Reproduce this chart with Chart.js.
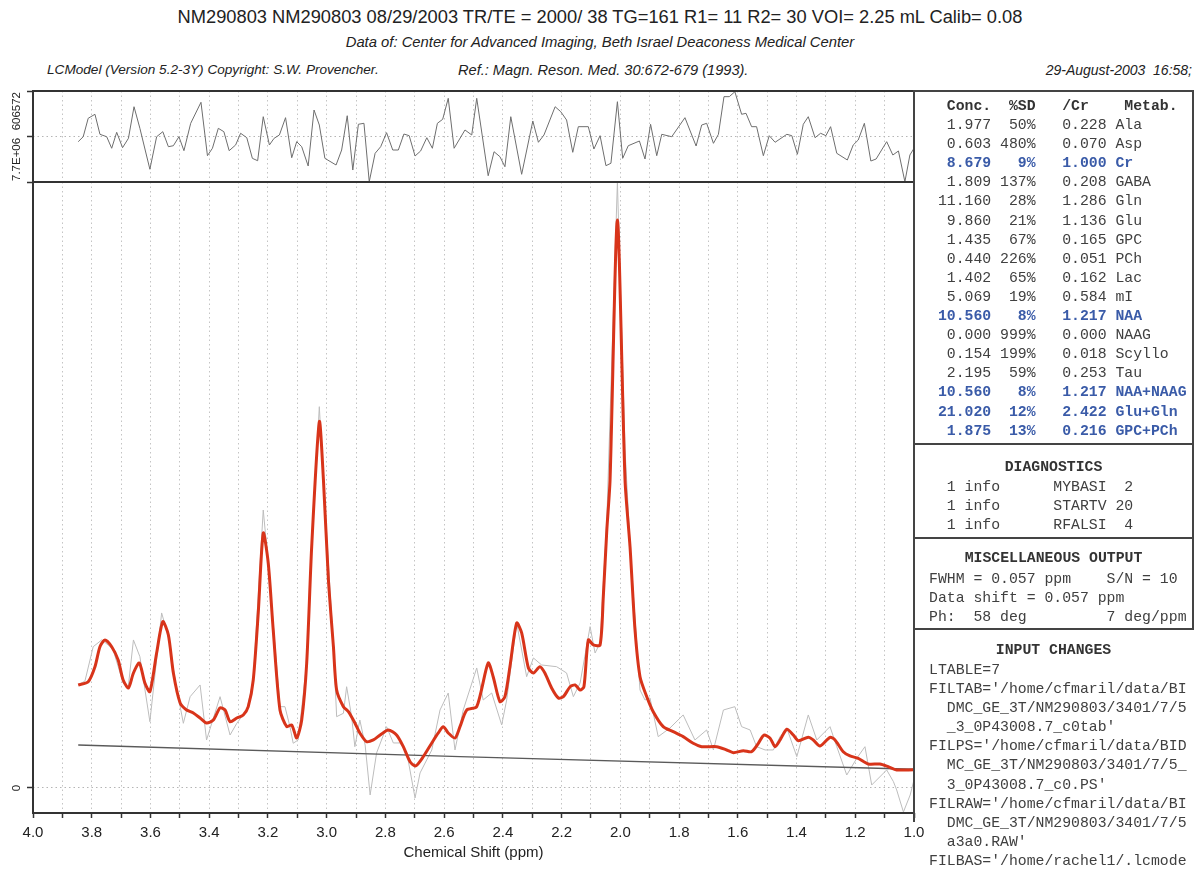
<!DOCTYPE html>
<html>
<head>
<meta charset="utf-8">
<title>LCModel fit NM290803</title>
<script src="https://cdn.jsdelivr.net/npm/chart.js@4.4.1/dist/chart.umd.min.js"></script>
<style>
  body { margin: 0; background: #fff; }
  #page { position: relative; width: 1200px; height: 869px; overflow: hidden;
          font-family: 'Liberation Sans Narrow', 'Liberation Sans', Arial, sans-serif; color: #222; }
  .hdr { position: absolute; white-space: pre; line-height: 1; }
  #title { top: 8px; left: 0; width: 1200px; text-align: center; font-size: 18.3px; }
  #source { top: 35px; left: 0; width: 1200px; text-align: center; font-size: 14.8px; font-style: italic; }
  #credit { top: 63px; left: 47px; font-size: 13.6px; font-style: italic; }
  #ref { top: 63px; left: 458px; font-size: 14.6px; font-style: italic; }
  #stamp { top: 63px; right: 8px; font-size: 14px; font-style: italic; }
  canvas { position: absolute; left: 0; }
  #resCanvas { top: 85px; }
  #fitCanvas { top: 85px; }
  .box { position: absolute; left: 913px; width: 281px; border: 2px solid #444; box-sizing: border-box; }
  #box1 { top: 90px; height: 355px; }
  #box2 { top: 443px; height: 96px; }
  #box3 { top: 537px; height: 93px; }
  #box4 { top: 628px; height: 194px; border-right: none; border-bottom: none; }
  .mono { position: absolute; left: 929px; margin: 0; white-space: pre;
          font-family: 'Liberation Mono', 'DejaVu Sans Mono', monospace; font-size: 14.8px; color: #404040; }
  .head { position: absolute; left: 913px; width: 281px; text-align: center; font-weight: bold;
          font-family: 'Liberation Mono', 'DejaVu Sans Mono', monospace; font-size: 14.8px; color: #333; line-height: 19px; }
  .mono div { height: 19.1px; line-height: 19.1px; }
  .blue { color: #3a5ba8; font-weight: bold; }
  .bold { font-weight: bold; color: #333; }
</style>
</head>
<body>
<div id="page">
  <div id="title" class="hdr">NM290803 NM290803 08/29/2003 TR/TE = 2000/ 38 TG=161 R1= 11 R2= 30 VOI= 2.25 mL Calib= 0.08</div>
  <div id="source" class="hdr">Data of: Center for Advanced Imaging, Beth Israel Deaconess Medical Center</div>
  <div id="credit" class="hdr">LCModel (Version 5.2-3Y) Copyright: S.W. Provencher.</div>
  <div id="ref" class="hdr">Ref.: Magn. Reson. Med. 30:672-679 (1993).</div>
  <div id="stamp" class="hdr">29-August-2003  16:58;</div>

  <canvas id="fitCanvas" width="940" height="784"></canvas>
  <canvas id="resCanvas" width="940" height="100"></canvas>

  <div class="box" id="box1"></div>
  <div class="box" id="box2"></div>
  <div class="box" id="box3"></div>
  <div class="box" id="box4"></div>

  <div class="mono" id="concTable" style="top:97px"></div>
  <div class="head" style="top:458px">DIAGNOSTICS</div>
  <div class="mono" id="diagTable" style="top:478px"></div>
  <div class="head" style="top:549px">MISCELLANEOUS OUTPUT</div>
  <div class="mono" id="miscTable" style="top:570px"></div>
  <div class="head" style="top:641px">INPUT CHANGES</div>
  <div class="mono" id="inputTable" style="top:661px"></div>
</div>

<script>
// chemical shift axis, ppm (plotted right to left)
const ppmTicks = [4.0, 3.9, 3.8, 3.7, 3.6, 3.5, 3.4, 3.3, 3.2, 3.1, 3.0, 2.9, 2.8, 2.7, 2.6, 2.5,
                  2.4, 2.3, 2.2, 2.1, 2.0, 1.9, 1.8, 1.7, 1.6, 1.5, 1.4, 1.3, 1.2, 1.1, 1.0];

// intensities are in units of 1e6
const spectrumMax = 7.7;
const spectrumMin = -0.318;
const residualMax = 0.606572;

// LCModel fit (red)
const fitPpm = [
  3.846, 3.812, 3.789, 3.772, 3.755, 3.732, 3.710, 3.693, 3.675, 3.658,
  3.638, 3.619, 3.602, 3.579, 3.558, 3.539, 3.522, 3.499, 3.477, 3.454,
  3.431, 3.409, 3.386, 3.363, 3.346, 3.329, 3.306, 3.284, 3.267, 3.250,
  3.233, 3.216, 3.199, 3.182, 3.159, 3.136, 3.119, 3.102, 3.085, 3.068,
  3.051, 3.025, 3.011, 2.994, 2.977, 2.966, 2.943, 2.926, 2.904, 2.887,
  2.864, 2.841, 2.818, 2.790, 2.762, 2.739, 2.716, 2.697, 2.671, 2.642,
  2.620, 2.603, 2.586, 2.563, 2.546, 2.523, 2.489, 2.450, 2.433, 2.410,
  2.393, 2.376, 2.353, 2.336, 2.313, 2.296, 2.274, 2.257, 2.234, 2.211,
  2.194, 2.171, 2.154, 2.137, 2.124, 2.109, 2.092, 2.069, 2.058, 2.046,
  2.035, 2.010, 1.984, 1.967, 1.950, 1.933, 1.910, 1.888, 1.854, 1.820,
  1.786, 1.752, 1.723, 1.672, 1.638, 1.615, 1.581, 1.553, 1.530, 1.511,
  1.490, 1.473, 1.456, 1.433, 1.411, 1.394, 1.360, 1.343, 1.320, 1.286,
  1.269, 1.241, 1.218, 1.190, 1.156, 1.116, 1.088, 1.059, 1.002
];
const fitVal = [
  1.309, 1.351, 1.541, 1.795, 1.881, 1.795, 1.626, 1.372, 1.271, 1.461,
  1.588, 1.334, 1.224, 1.715, 2.113, 1.944, 1.461, 1.080, 0.991, 0.953,
  0.889, 0.826, 0.864, 1.017, 0.991, 0.842, 0.889, 0.928, 1.033, 1.372,
  2.224, 3.240, 2.859, 2.008, 0.991, 0.779, 0.801, 0.635, 0.864, 1.588,
  3.066, 4.654, 3.914, 2.643, 1.795, 1.245, 1.033, 0.969, 0.826, 0.699,
  0.588, 0.610, 0.673, 0.737, 0.673, 0.525, 0.334, 0.280, 0.398, 0.572,
  0.699, 0.779, 0.699, 0.635, 0.779, 0.991, 1.033, 1.588, 1.414, 1.097,
  1.160, 1.541, 2.097, 1.970, 1.525, 1.461, 1.541, 1.461, 1.271, 1.144,
  1.160, 1.287, 1.309, 1.245, 1.287, 1.881, 1.817, 1.817, 2.431, 3.278,
  3.914, 7.217, 3.914, 3.066, 2.008, 1.414, 1.160, 0.969, 0.779, 0.715,
  0.652, 0.568, 0.525, 0.525, 0.483, 0.449, 0.474, 0.461, 0.568, 0.673,
  0.632, 0.525, 0.610, 0.746, 0.673, 0.601, 0.644, 0.610, 0.534, 0.644,
  0.610, 0.461, 0.407, 0.377, 0.305, 0.305, 0.271, 0.229, 0.232
];

// measured spectrum (grey)
const dataPpm = [
  3.846, 3.823, 3.795, 3.766, 3.744, 3.727, 3.693, 3.676, 3.658, 3.636,
  3.602, 3.562, 3.539, 3.516, 3.488, 3.465, 3.431, 3.409, 3.363, 3.329,
  3.306, 3.272, 3.250, 3.216, 3.199, 3.159, 3.142, 3.125, 3.114, 3.097,
  3.068, 3.051, 3.025, 3.011, 2.977, 2.966, 2.943, 2.932, 2.915, 2.904,
  2.887, 2.869, 2.852, 2.830, 2.796, 2.773, 2.750, 2.727, 2.699, 2.682,
  2.642, 2.614, 2.586, 2.563, 2.535, 2.489, 2.467, 2.438, 2.404, 2.387,
  2.353, 2.319, 2.296, 2.268, 2.217, 2.183, 2.160, 2.137, 2.103, 2.086,
  2.069, 2.046, 2.010, 1.984, 1.964, 1.933, 1.916, 1.899, 1.871, 1.831,
  1.786, 1.746, 1.706, 1.683, 1.649, 1.610, 1.587, 1.558, 1.536, 1.507,
  1.479, 1.456, 1.433, 1.399, 1.360, 1.331, 1.286, 1.263, 1.229, 1.195,
  1.167, 1.144, 1.093, 1.070, 1.059, 1.036, 1.013, 1.000
];
const dataVal = [
  1.309, 1.360, 1.795, 1.881, 1.817, 1.753, 1.334, 1.271, 1.881, 1.668,
  0.842, 2.224, 1.922, 1.372, 0.822, 1.160, 1.309, 0.610, 1.160, 0.673,
  0.822, 0.991, 1.372, 3.532, 2.859, 1.033, 1.033, 0.779, 0.568, 0.610,
  1.588, 3.066, 4.845, 3.914, 1.795, 0.906, 0.949, 1.287, 0.906, 0.525,
  0.864, 0.546, -0.089, 0.445, 0.779, 0.572, 0.572, 0.445, -0.127, 0.191,
  0.483, 0.991, 1.207, 0.483, 0.991, 1.525, 1.118, 1.207, 0.801, 1.118,
  2.097, 1.414, 1.652, 1.563, 1.541, 1.461, 1.160, 1.334, 2.050, 1.715,
  1.842, 3.405, 7.700, 4.295, 2.900, 1.245, 1.118, 1.144, 0.652, 0.762,
  0.928, 0.610, 0.737, 0.483, 0.991, 1.033, 0.779, 0.737, 0.525, 0.483,
  0.483, 0.652, 0.759, 0.398, 0.928, 0.610, 0.779, 0.525, 0.165, 0.377,
  0.525, 0.038, 0.229, 0.080, -0.025, -0.305, -0.089, 0.102
];

// fitted baseline
const basePpm = [3.846, 2.546, 1.002];
const baseVal = [0.546, 0.398, 0.238];

// residual = data - fit (top panel)
const residPpm = [
  3.846, 3.829, 3.812, 3.789, 3.772, 3.749, 3.732, 3.715, 3.695, 3.675,
  3.656, 3.636, 3.602, 3.579, 3.558, 3.539, 3.522, 3.503, 3.486, 3.463,
  3.428, 3.406, 3.389, 3.369, 3.350, 3.332, 3.310, 3.293, 3.272, 3.253,
  3.235, 3.216, 3.195, 3.179, 3.161, 3.140, 3.119, 3.102, 3.085, 3.063,
  3.043, 3.025, 3.006, 2.968, 2.949, 2.930, 2.911, 2.892, 2.873, 2.855,
  2.835, 2.816, 2.796, 2.775, 2.756, 2.737, 2.719, 2.699, 2.680, 2.659,
  2.640, 2.623, 2.605, 2.586, 2.566, 2.529, 2.506, 2.489, 2.450, 2.430,
  2.410, 2.393, 2.373, 2.336, 2.298, 2.279, 2.260, 2.222, 2.203, 2.183,
  2.162, 2.143, 2.109, 2.090, 2.069, 2.049, 2.032, 2.010, 1.992, 1.973,
  1.935, 1.916, 1.897, 1.876, 1.859, 1.825, 1.780, 1.742, 1.723, 1.706,
  1.683, 1.666, 1.647, 1.629, 1.610, 1.587, 1.572, 1.553, 1.536, 1.513,
  1.493, 1.473, 1.433, 1.416, 1.397, 1.377, 1.360, 1.337, 1.318, 1.300,
  1.284, 1.263, 1.227, 1.207, 1.190, 1.169, 1.147, 1.129, 1.093, 1.072,
  1.053, 1.031, 1.014, 1.000
];
const residVal = [
  -0.069, -0.003, 0.243, 0.296, 0.029, -0.003, -0.157, 0.056, -0.149, -0.024,
  0.397, 0.109, -0.437, -0.003, 0.064, -0.136, -0.123, -0.003, -0.189, 0.176,
  0.456, -0.256, -0.157, 0.109, 0.064, -0.189, -0.113, 0.043, -0.016, -0.291,
  -0.323, 0.264, -0.113, -0.024, 0.020, 0.251, -0.283, -0.069, -0.136, -0.393,
  0.353, 0.153, -0.291, -0.380, -0.180, 0.277, -0.447, 0.163, 0.176, -0.603,
  -0.224, -0.136, 0.051, -0.180, -0.180, 0.033, 0.011, -0.260, -0.193, -0.016,
  -0.157, 0.176, 0.229, 0.509, -0.157, 0.087, 0.020, 0.509, -0.523, -0.203,
  -0.269, -0.403, 0.264, -0.504, 0.207, -0.077, 0.020, 0.397, 0.331, 0.220,
  -0.211, 0.131, 0.131, -0.167, 0.011, -0.389, -0.357, 0.464, -0.291, -0.123,
  -0.060, -0.300, 0.163, -0.256, 0.029, -0.003, 0.251, -0.127, 0.153, 0.176,
  -0.091, 0.029, 0.531, 0.531, 0.597, 0.296, 0.309, 0.131, 0.131, -0.256,
  0.011, -0.077, 0.029, 0.011, -0.237, 0.163, 0.264, -0.016, 0.043, 0.011,
  0.131, -0.224, -0.313, -0.113, -0.047, 0.176, -0.327, -0.300, -0.069, -0.247,
  -0.193, -0.603, -0.247, -0.157
];

// concentration table
const metabNames = ['Ala', 'Asp', 'Cr', 'GABA', 'Gln', 'Glu', 'GPC', 'PCh', 'Lac', 'mI',
                    'NAA', 'NAAG', 'Scyllo', 'Tau', 'NAA+NAAG', 'Glu+Gln', 'GPC+PCh'];
const metabConc = [1.977, 0.603, 8.679, 1.809, 11.160, 9.860, 1.435, 0.440, 1.402, 5.069,
                   10.560, 0.000, 0.154, 2.195, 10.560, 21.020, 1.875];
const metabSD = [50, 480, 9, 137, 28, 21, 67, 226, 65, 19, 8, 999, 199, 59, 8, 12, 13];
const metabRatio = [0.228, 0.070, 1.000, 0.208, 1.286, 1.136, 0.165, 0.051, 0.162, 0.584,
                    1.217, 0.000, 0.018, 0.253, 1.217, 2.422, 0.216];
const highlighted = ['Cr', 'NAA', 'NAA+NAAG', 'Glu+Gln', 'GPC+PCh'];

const diagCount = [1, 1, 1];
const diagLevel = ['info', 'info', 'info'];
const diagCode = ['MYBASI', 'STARTV', 'RFALSI'];
const diagNum = [2, 20, 4];

const miscLines = [
  'FWHM = 0.057 ppm    S/N = 10',
  'Data shift = 0.057 ppm',
  'Ph:  58 deg         7 deg/ppm'
];
const inputLines = [
  'LTABLE=7',
  "FILTAB='/home/cfmaril/data/BI",
  '  DMC_GE_3T/NM290803/3401/7/5',
  "  _3_0P43008.7_c0tab'",
  "FILPS='/home/cfmaril/data/BID",
  '  MC_GE_3T/NM290803/3401/7/5_',
  "  3_0P43008.7_c0.PS'",
  "FILRAW='/home/cfmaril/data/BI",
  '  DMC_GE_3T/NM290803/3401/7/5',
  "  a3a0.RAW'",
  "FILBAS='/home/rachel1/.lcmode"
];

// ---- text panels ----
function addLine(parent, text, cls) {
  const d = document.createElement('div');
  d.textContent = text;
  if (cls) d.className = cls;
  parent.appendChild(d);
}

const concTable = document.getElementById('concTable');
addLine(concTable, '  Conc.  %SD   /Cr    Metab.', 'bold');
metabNames.forEach((name, i) => {
  const line = ' ' + metabConc[i].toFixed(3).padStart(6) + ' ' + (metabSD[i] + '%').padStart(4) +
               '   ' + metabRatio[i].toFixed(3) + ' ' + name;
  addLine(concTable, line, highlighted.includes(name) ? 'blue' : '');
});

const diagTable = document.getElementById('diagTable');
diagCode.forEach((code, i) => {
  addLine(diagTable, '  ' + diagCount[i] + ' ' + diagLevel[i].padEnd(10) + code + String(diagNum[i]).padStart(3));
});
const miscTable = document.getElementById('miscTable');
miscLines.forEach(l => addLine(miscTable, l));
const inputTable = document.getElementById('inputTable');
inputLines.forEach(l => addLine(inputTable, l));

// ---- charts ----
const narrow = "'Liberation Sans Narrow', 'Liberation Sans', Arial, sans-serif";
const toPoints = (xs, ys) => xs.map((x, i) => ({ x: x, y: ys[i] }));

function sciLabel(v) {
  const [m, e] = (v * 1e6).toExponential(1).split('e');
  const exp = Math.abs(+e).toString().padStart(2, '0');
  return m + 'E' + (+e < 0 ? '-' : '+') + exp;
}

// box around the plotting area
const framePlugin = {
  id: 'frame',
  afterDatasetsDraw(chart) {
    const { ctx, chartArea: a } = chart;
    ctx.save();
    ctx.strokeStyle = '#333';
    ctx.lineWidth = 2;
    ctx.strokeRect(a.left, a.top, a.right - a.left, a.bottom - a.top);
    ctx.restore();
  }
};

// y labels are written sideways, like the PostScript output
function sideLabels(labels) {
  return {
    id: 'sideLabels',
    afterDraw(chart) {
      const { ctx } = chart;
      const y = chart.scales.y;
      ctx.save();
      ctx.font = '11.5px ' + narrow;
      ctx.fillStyle = '#222';
      ctx.textBaseline = 'middle';
      labels.forEach(l => {
        ctx.save();
        ctx.translate(17, y.getPixelForValue(l.value) + (l.shift || 0));
        ctx.rotate(-Math.PI / 2);
        ctx.textAlign = l.align;
        ctx.fillText(l.text, 0, 0);
        ctx.restore();
      });
      ctx.restore();
    }
  };
}

function ppmAxis(withLabels) {
  return {
    type: 'linear',
    min: 1.0,
    max: 4.0,
    reverse: true,
    afterBuildTicks: s => { s.ticks = ppmTicks.map(v => ({ value: v })); },
    afterFit: s => { s.paddingLeft = 0; s.paddingRight = 0; s.height = withLabels ? 56 : 3; },
    grid: { color: '#c4c4c4', lineWidth: 1, drawTicks: withLabels, tickLength: 5,
            tickColor: '#333', tickWidth: 1.5, tickBorderDash: [] },
    border: { display: false, dash: [1.5, 3] },
    ticks: {
      display: withLabels, autoSkip: false, maxRotation: 0, minRotation: 0, padding: 6,
      color: '#222', font: { family: narrow, size: 15 },
      callback: v => (Math.round(v * 10) % 2 === 0 ? v.toFixed(1) : '')
    },
    title: { display: withLabels, text: 'Chemical Shift (ppm)', color: '#222',
             font: { family: narrow, size: 15 }, padding: { top: 0, bottom: 7 } }
  };
}

function intensityAxis(min, max, tickValues) {
  return {
    type: 'linear',
    min: min,
    max: max,
    afterBuildTicks: s => { s.ticks = tickValues.map(v => ({ value: v })); },
    afterFit: s => { s.width = 33; },
    grid: { color: c => (c.tick && c.tick.value === 0 ? '#b5b5b5' : 'rgba(0,0,0,0)'),
            drawTicks: true, tickLength: 6, tickColor: '#333', tickWidth: 1.5, tickBorderDash: [] },
    border: { display: false, dash: [1.5, 3] },
    ticks: { display: false }
  };
}

const common = {
  responsive: false,
  devicePixelRatio: 1,
  animation: false,
  events: [],
  parsing: false,
  normalized: true,
  elements: { point: { radius: 0 } },
  plugins: { legend: { display: false }, tooltip: { enabled: false } }
};

new Chart(document.getElementById('fitCanvas'), {
  type: 'line',
  data: {
    datasets: [
      { data: toPoints(fitPpm, fitVal), borderColor: '#d8341a', borderWidth: 3, tension: 0.25,
        borderJoinStyle: 'round', fill: false },
      { data: toPoints(basePpm, baseVal), borderColor: '#5a5a5a', borderWidth: 1.3, fill: false },
      { data: toPoints(dataPpm, dataVal), borderColor: '#bdbdbd', borderWidth: 1, fill: false }
    ]
  },
  options: Object.assign({}, common, {
    layout: { padding: { left: 0, right: 26, top: 97, bottom: 0 } },
    scales: {
      x: ppmAxis(true),
      y: intensityAxis(spectrumMin, spectrumMax, [0, spectrumMax])
    }
  }),
  plugins: [framePlugin, sideLabels([
    { value: 0, text: '0', align: 'center' },
    { value: spectrumMax, text: sciLabel(spectrumMax), align: 'left', shift: -1 }
  ])]
});

new Chart(document.getElementById('resCanvas'), {
  type: 'line',
  data: {
    datasets: [
      { data: toPoints(residPpm, residVal), borderColor: '#6e6e6e', borderWidth: 1, fill: false }
    ]
  },
  options: Object.assign({}, common, {
    layout: { padding: { left: 0, right: 26, top: 6, bottom: 0 } },
    scales: {
      x: ppmAxis(false),
      y: intensityAxis(-residualMax, residualMax, [0, residualMax])
    }
  }),
  plugins: [framePlugin, sideLabels([
    { value: residualMax, text: Math.round(residualMax * 1e6).toString(), align: 'right', shift: 1 }
  ])]
});
</script>
</body>
</html>
